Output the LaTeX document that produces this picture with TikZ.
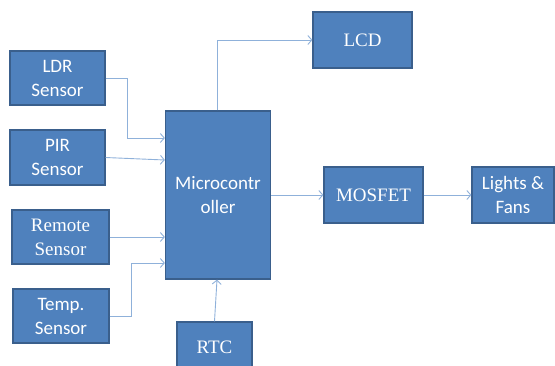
\documentclass[tikz,border=0pt]{standalone}
\usepackage{fontspec}
\setmainfont{Liberation Serif}
\newfontfamily\calfont{Carlito}
\usetikzlibrary{arrows.meta}
\definecolor{boxblue}{HTML}{4F81BD}
\definecolor{boxedge}{HTML}{3A5F8C}
\definecolor{linkblue}{HTML}{8FB1DA}
\tikzset{
	blk/.style={draw=boxedge,fill=boxblue,line width=1.2pt,text=white,align=center,
		inner sep=0pt,font=\fontsize{19}{24}\selectfont},
	link/.style={draw=linkblue,line width=0.9pt,-{Straight Barb[length=4pt,width=9pt]}}
}
\begin{document}
\begin{tikzpicture}[x=1pt,y=-1pt]
\useasboundingbox (0,0) rectangle (555,365);
% sensors on the left
\node[blk,minimum width=95,minimum height=54] (ldr) at (57.5,78) {\calfont LDR\\\calfont Sensor};
\node[blk,minimum width=95,minimum height=55] (pir) at (57.5,157.5) {\calfont PIR\\\calfont Sensor};
\node[blk,minimum width=97,minimum height=54] (remote) at (60.5,237) {Remote\\Sensor};
\node[blk,minimum width=96,minimum height=54] (temp) at (61,316) {\calfont Temp.\\\calfont Sensor};
% controller and outputs
\node[blk,minimum width=105,minimum height=168] (micro) at (218,195) {\calfont Microcontr\\\calfont oller};
\node[blk,minimum width=75,minimum height=50] (rtc) at (214.5,347) {RTC};
\node[blk,minimum width=99,minimum height=56] (lcd) at (362.5,40) {LCD};
\node[blk,minimum width=99,minimum height=56] (mosfet) at (373.5,195) {MOSFET};
\node[blk,minimum width=82,minimum height=56] (lights) at (513,195) {\calfont Lights \&\\\calfont Fans};
% connectors
\draw[link] (ldr.east) -- ++(22,0) |- ([yshift=57pt]micro.west);
\draw[link] (pir.east) -- ([yshift=35pt]micro.west);
\draw[link] (remote.east) -- ([yshift=-42pt]micro.west);
\draw[link] (temp.east) -- ++(22,0) |- ([yshift=-68pt]micro.west);
\draw[link] (rtc.north) -- ([xshift=-1pt]micro.south);
\draw[link] ([xshift=-1pt]micro.north) |- (lcd.west);
\draw[link] (micro.east) -- (mosfet.west);
\draw[link] (mosfet.east) -- (lights.west);
\end{tikzpicture}
\end{document}
